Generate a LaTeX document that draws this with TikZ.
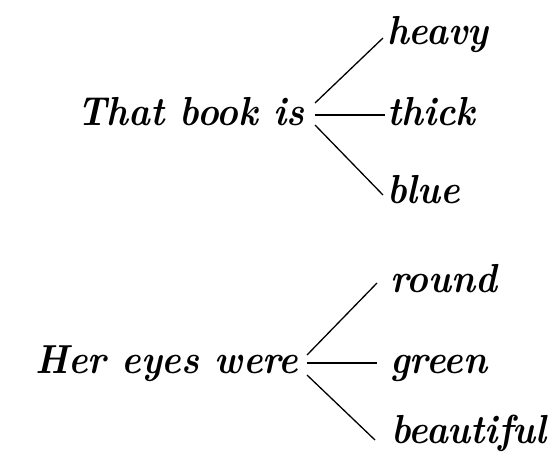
\documentclass[tikz,border=0pt]{standalone}
\usetikzlibrary{calc}
\newcommand{\wrd}[1]{\scalebox{0.91}[1]{#1}}
\begin{document}
\begin{tikzpicture}[x=1pt,y=1pt,
  word/.style={inner sep=0pt,anchor=base west,font=\fontsize{40.5}{48}\selectfont\bfseries\itshape},
  branch/.style={line width=1.3pt,black}]
\useasboundingbox (0,0) rectangle (556,-460);
\fill[white] (0,0) rectangle (556,-460);
% top group
\node[word] (tb) at (77,-125) {\wrd{That book is}};
\node[word] (heavy) at (387,-45) {\wrd{heavy}};
\node[word] (thick) at (387,-125) {\wrd{thick}};
\node[word] (blue) at (387,-203) {\wrd{blue}};
\coordinate (tbj) at (315,-115);
\draw[branch] ($(tbj)+(0,12)$) -- ($(heavy.base west)+(-4,7)$);
\draw[branch] (tbj) -- ($(thick.base west)+(-2,10)$);
\draw[branch] ($(tbj)+(0,-10)$) -- ($(blue.base west)+(-4,8)$);
% bottom group
\node[word] (he) at (35,-373) {\wrd{Her eyes were}};
\node[word] (round) at (390,-292) {\wrd{round}};
\node[word] (green) at (390,-373) {\wrd{green}};
\node[word] (beautiful) at (391,-443) {\wrd{beautiful}};
\coordinate (hej) at (307,-363);
\draw[branch] ($(hej)+(0,8)$) -- ($(round.base west)+(-13,9)$);
\draw[branch] (hej) -- ($(green.base west)+(-13,10)$);
\draw[branch] ($(hej)+(0,-12)$) -- ($(beautiful.base west)+(-16,3)$);
\end{tikzpicture}
\end{document}
